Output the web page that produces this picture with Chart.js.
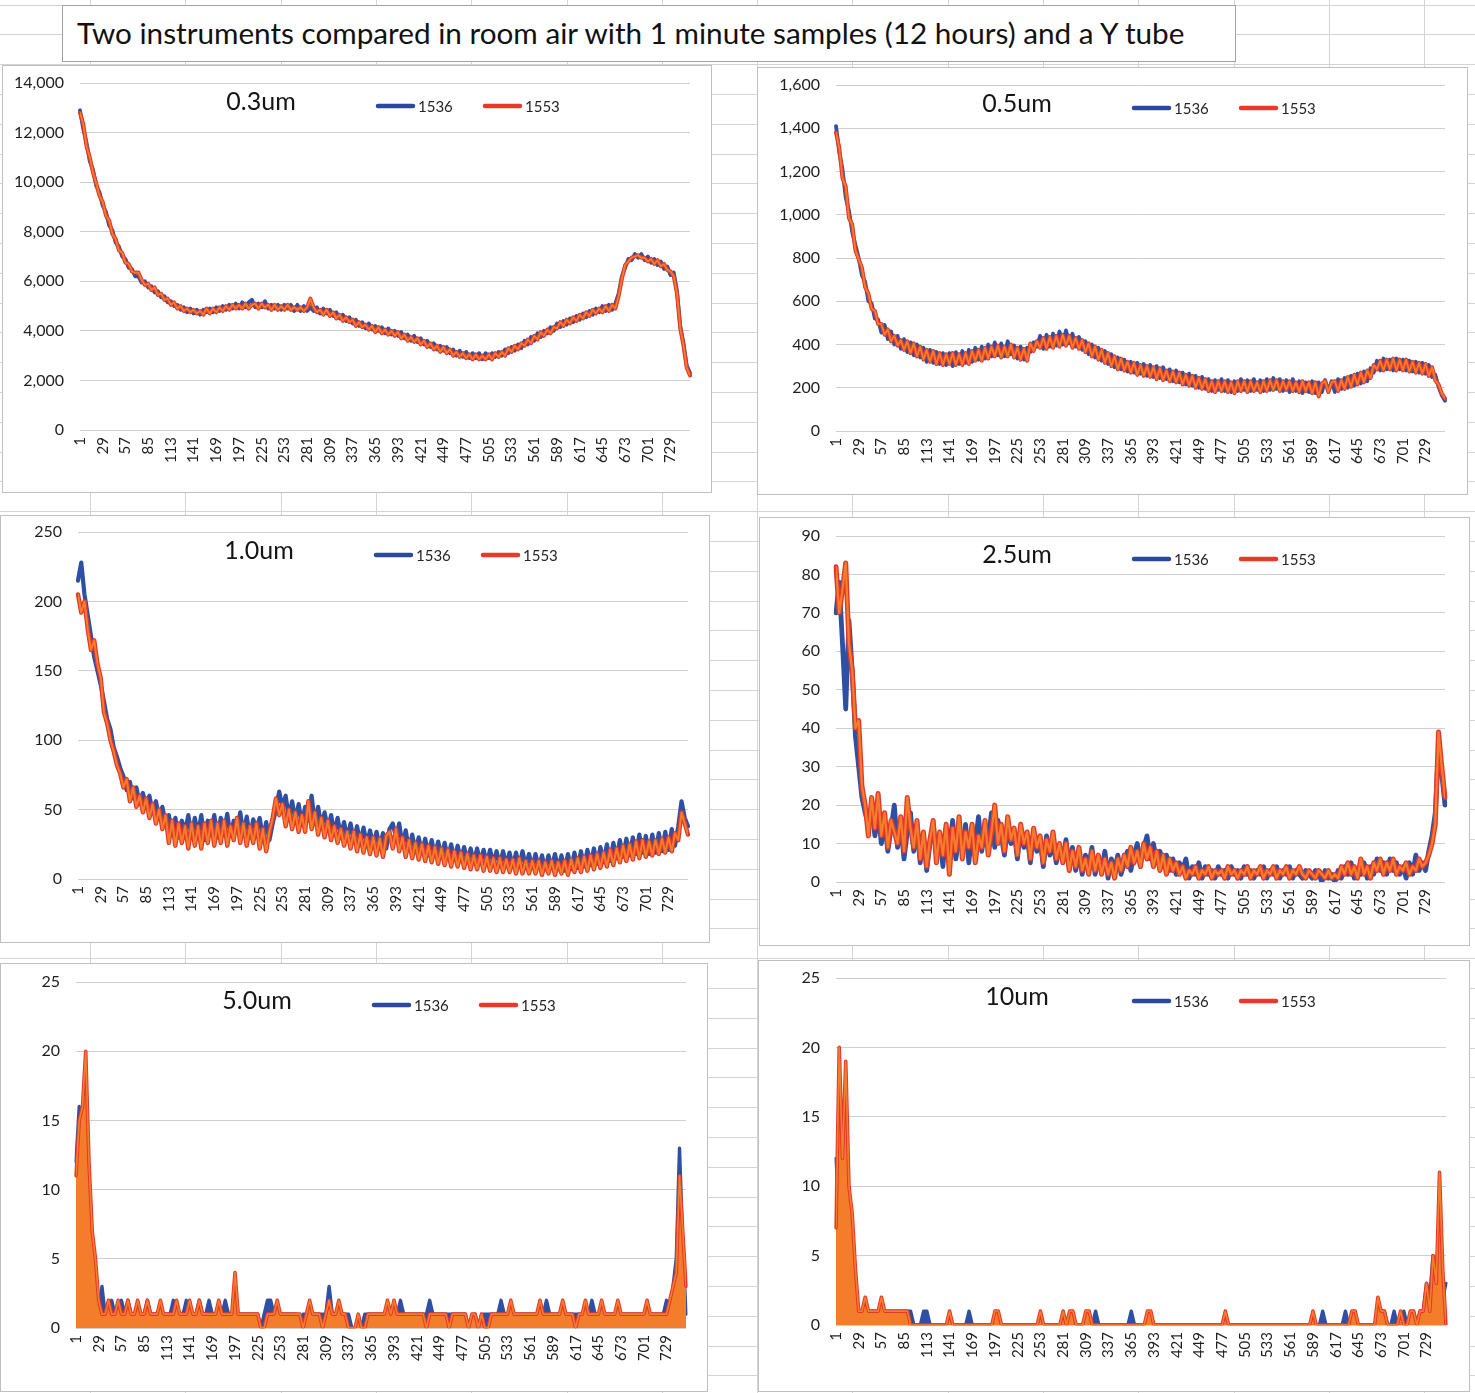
<!DOCTYPE html>
<html><head><meta charset="utf-8">
<script src="https://cdn.jsdelivr.net/npm/chart.js@4.4.0/dist/chart.umd.min.js"></script>
<style>
html,body{margin:0;padding:0;}
body{width:1475px;height:1393px;position:relative;background:#fff;overflow:hidden;font-family:Lato,sans-serif;}
#sheet{position:absolute;left:0;top:0;}
.panel{position:absolute;background:#fff;border:1px solid #bfbfbf;box-sizing:border-box;}
.panel canvas{position:absolute;left:0;top:0;}
#title{position:absolute;left:62px;top:5px;width:1174px;height:57px;border:1px solid #a2a2a2;background:#fff;box-sizing:border-box;
  font-family:Lato,sans-serif;font-size:28px;line-height:54px;padding-left:14px;white-space:nowrap;color:#111;}
</style>
</head><body>
<canvas id="sheet" width="1475" height="1393"></canvas>
<div id="title">Two instruments compared in room air with 1 minute samples (12 hours) and a Y tube</div>
<script>
// ---------- DATA (sample every 4 minutes, minute 1 .. 753) ----------
const SAMPLE_STEP = 4;
const SAMPLE_COUNT = 189;
const minutes = Array.from({length: SAMPLE_COUNT}, (_, i) => 1 + SAMPLE_STEP * i);
const xTickLabels = [1,29,57,85,113,141,169,197,225,253,281,309,337,365,393,421,449,477,505,533,561,589,617,645,673,701,729];
const seriesNames = ['1536', '1553'];
const panelTitles = ['0.3um', '0.5um', '1.0um', '2.5um', '5.0um', '10um'];
const yMaxima = [14000, 1600, 250, 90, 25, 25];
const yStepSizes = [2000, 200, 50, 10, 5, 5];

const p03_1536 = [
12900,12150,11600,10850,10500,9850,9600,
9050,8800,8250,8050,7550,7400,7000,
6900,6550,6500,6200,6200,5950,6000,
5750,5800,5550,5600,5350,5400,5150,
5200,5000,5050,4850,4950,4750,4900,
4700,4850,4650,4850,4750,4900,4750,
4950,4800,5000,4850,5050,4900,5100,
4900,5150,4950,5150,5250,4950,5100,
4950,5200,4900,5050,4900,5050,4850,
5050,4900,5050,4800,5050,4800,5000,
4800,4950,4800,4950,4700,4900,4700,
4850,4600,4750,4500,4650,4400,4550,
4300,4450,4200,4350,4100,4300,4050,
4200,4000,4150,3900,4100,3850,4000,
3800,3950,3700,3850,3600,3800,3550,
3700,3450,3600,3350,3500,3250,3400,
3200,3350,3100,3250,3000,3200,2950,
3150,2900,3100,2900,3100,2850,3100,
2900,3100,2950,3150,3000,3250,3100,
3350,3200,3450,3300,3600,3450,3750,
3600,3900,3750,4000,3900,4150,4000,
4300,4150,4400,4250,4500,4350,4600,
4450,4700,4550,4800,4650,4900,4750,
5000,4800,5050,4850,5100,5500,6200,
6550,6900,6850,7100,6950,7100,6850,
7000,6750,6900,6650,6800,6500,6600,
6250,6350,5600,4200,3500,2600,2300];
const p03_1553 = [
12800,12350,11450,11000,10400,9950,9450,
9200,8650,8450,7900,7700,7250,7150,
6750,6700,6400,6350,6350,6050,5850,
5900,5650,5750,5450,5500,5250,5300,
5050,5150,4900,5000,4800,4900,4750,
4850,4700,4800,4650,4900,4700,4900,
4750,4950,4800,5000,4850,5050,4900,
5050,4900,5100,4900,5050,5100,4900,
5100,4950,5050,4850,5050,4850,5000,
4850,5050,4850,4950,4850,4950,4800,
4950,5300,4950,4750,4850,4650,4850,
4600,4750,4500,4650,4400,4550,4350,
4450,4200,4350,4150,4250,4050,4200,
3950,4150,3900,4050,3850,4000,3800,
3950,3700,3850,3600,3750,3550,3700,
3450,3600,3350,3500,3250,3400,3150,
3350,3100,3250,3000,3150,2950,3100,
2900,3050,2850,3050,2850,3000,2850,
3050,2850,3100,2950,3150,3000,3300,
3150,3400,3250,3500,3400,3650,3500,
3800,3650,3950,3800,4050,3900,4150,
4100,4350,4200,4450,4300,4550,4400,
4650,4500,4750,4600,4850,4700,4900,
4750,5000,4800,5050,4900,5400,6100,
6650,6800,6950,7000,7050,6950,6950,
6800,6900,6700,6850,6600,6700,6450,
6400,6200,5500,4100,3400,2500,2200];

const p05_1536 = [
1410,1290,1210,1080,1020,920,860,
800,720,690,600,590,520,515,
455,490,425,460,400,440,380,
425,365,410,350,400,340,385,
320,375,315,365,310,360,305,
360,300,365,310,370,315,375,
320,385,330,390,335,400,345,
410,350,405,345,415,355,395,
335,390,330,385,365,410,390,
440,380,445,390,450,395,460,
400,465,405,450,390,435,375,
415,355,400,340,385,325,370,
310,355,295,340,285,330,275,
320,270,315,265,310,255,305,
250,300,245,295,240,285,230,
280,225,270,215,265,210,255,
200,250,195,240,185,235,190,
240,185,235,180,230,185,240,
190,235,185,240,190,235,185,
240,190,245,195,240,185,235,
180,240,185,230,175,225,180,
230,175,225,180,235,185,230,
180,240,195,245,200,255,210,
265,220,275,230,290,270,325,
280,335,285,330,280,335,285,
330,280,325,275,320,270,315,
265,305,250,260,205,165,140];
const p05_1553 = [
1380,1310,1170,1130,985,955,835,
795,755,665,635,565,555,495,
495,445,470,415,440,395,420,
375,415,360,405,345,390,330,
375,320,370,310,360,305,355,
310,360,305,355,305,360,310,
370,325,375,325,385,335,390,
345,395,340,390,345,400,340,
385,330,380,325,405,370,415,
385,430,380,435,385,440,390,
445,395,440,385,430,380,420,
365,405,345,390,330,375,315,
360,300,345,285,335,280,320,
270,315,260,305,255,300,250,
295,240,290,235,280,230,275,
225,270,215,260,210,255,200,
245,195,240,185,230,180,230,
185,230,180,225,175,230,185,
230,180,230,185,225,180,230,
185,235,190,235,185,230,190,
230,185,225,180,230,185,225,
175,225,160,220,230,180,225,
230,185,235,195,250,205,260,
215,270,225,280,245,305,285,
325,280,330,285,335,280,330,
280,330,275,320,270,315,265,
310,255,295,235,215,175,150];

const p10_1536 = [
215,228,205,190,175,160,150,
140,128,115,108,95,88,80,
74,64,70,58,66,54,62,
52,60,48,56,44,52,40,
46,32,44,30,42,34,46,
30,44,32,46,28,42,34,
46,30,44,34,47,31,42,
35,48,32,45,30,43,36,
44,29,41,28,40,50,63,
52,60,44,56,42,54,40,
52,42,60,40,52,38,48,
36,46,33,44,31,41,29,
40,28,38,26,37,25,35,
24,34,23,33,22,36,40,
30,40,24,35,21,32,20,
30,19,29,18,28,17,27,
16,26,15,25,14,24,14,
23,13,22,12,22,12,21,
11,21,11,20,10,20,10,
19,9,19,9,20,9,18,
8,18,8,17,7,17,8,
18,7,17,6,18,7,19,
8,20,9,21,10,22,11,
23,12,25,13,26,15,28,
16,29,17,30,18,32,19,
31,18,32,19,33,20,34,
21,36,24,38,56,44,38];
const p10_1553 = [
205,192,200,180,165,172,155,
145,120,112,100,92,82,76,
66,72,56,66,52,60,48,
58,44,54,40,50,36,46,
26,42,24,40,26,38,22,
40,24,38,22,40,26,42,
24,40,26,42,24,38,28,
44,26,40,24,38,26,40,
22,36,20,34,44,58,46,
54,38,50,36,48,34,46,
34,56,36,48,32,44,30,
42,28,38,26,36,24,34,
22,34,20,32,19,30,18,
30,17,29,16,31,34,22,
36,20,30,16,28,15,26,
14,25,13,24,12,23,11,
22,10,21,9,20,9,19,
8,18,7,17,7,17,6,
16,6,15,5,15,5,14,
5,14,4,15,4,13,4,
13,4,13,3,12,4,13,
3,12,4,13,3,14,5,
15,5,16,6,17,7,18,
8,19,9,21,10,22,12,
24,13,25,14,27,15,28,
16,27,17,28,18,29,19,
30,20,33,28,48,40,32];

const p25_1536 = [
70,78,62,45,68,55,38,
30,22,18,15,20,12,18,
10,16,8,14,20,9,15,
6,13,18,8,14,5,12,
3,10,15,7,12,4,14,
9,16,6,12,8,15,5,
13,10,17,8,14,11,18,
9,16,12,7,15,10,13,
6,14,9,12,5,13,8,
11,4,12,7,10,5,9,
6,11,4,9,3,8,2,
7,4,9,2,6,3,8,
1,6,3,7,2,5,8,
3,7,10,5,9,12,6,
10,5,8,4,7,3,6,
2,5,3,6,1,4,2,
5,1,4,2,3,1,4,
2,3,1,4,2,3,1,
4,2,3,1,3,2,4,
1,3,2,4,1,3,2,
4,1,3,2,1,3,2,
1,3,2,0,3,1,2,
0,3,1,4,2,5,1,
3,2,5,1,4,2,6,
3,5,2,6,3,5,2,
4,1,5,2,7,3,5,
3,8,12,18,35,28,20];
const p25_1553 = [
82,70,76,83,62,55,40,
42,25,20,12,22,14,23,
12,18,9,16,13,10,17,
8,22,14,9,16,6,13,
4,11,16,5,13,7,15,
2,14,8,17,6,13,9,
15,5,12,9,16,7,13,
20,10,15,8,17,11,14,
7,15,10,13,6,14,9,
12,5,11,8,13,6,10,
5,10,3,8,4,9,3,
6,2,8,3,7,2,6,
2,5,1,6,3,7,4,
9,5,8,4,10,6,9,
4,8,3,7,2,6,3,
5,2,4,1,3,2,4,
1,3,2,4,1,3,2,
3,1,4,2,3,1,3,
2,4,1,3,2,4,1,
3,2,4,1,3,2,4,
1,3,2,4,2,1,3,
2,1,3,2,1,3,1,
2,1,4,2,5,2,4,
1,6,2,4,1,5,3,
6,2,5,3,6,2,4,
3,5,2,4,3,6,4,
5,7,10,15,39,30,22];

const p50_1536 = [
12,16,8,14,11,6,4,
0,3,1,1,2,1,1,
2,1,2,1,1,1,1,
1,2,1,1,1,1,1,
1,1,2,1,1,1,2,
1,1,1,2,1,1,2,
1,1,1,1,2,1,1,
1,1,1,1,1,1,1,
1,0,1,2,2,1,1,
1,1,1,1,1,1,0,
1,1,1,1,1,1,1,
1,3,1,1,1,1,1,
1,0,0,0,0,1,1,
1,1,1,1,1,1,1,
1,1,2,1,1,1,1,
1,1,1,1,2,1,1,
1,1,1,1,1,1,1,
1,1,0,0,1,0,1,
1,1,1,1,1,2,1,
1,1,1,1,1,1,1,
1,1,1,1,1,2,1,
1,1,1,1,1,1,1,
1,1,1,1,1,2,1,
1,1,1,1,1,1,1,
1,1,1,1,1,1,1,
1,1,1,1,1,1,1,
2,1,3,5,13,6,1];
const p50_1553 = [
11,15,16,20,12,7,5,
2,1,1,2,1,1,2,
1,1,2,1,1,2,1,
1,2,1,1,1,2,1,
1,1,1,2,1,1,1,
2,1,1,2,1,1,1,
1,1,2,1,1,1,1,
4,1,1,1,1,1,1,
1,0,0,1,1,1,2,
1,1,1,1,1,1,1,
0,1,2,1,1,1,0,
1,2,1,1,2,1,1,
0,0,0,1,0,0,1,
1,1,1,1,1,2,1,
2,1,1,1,1,1,1,
1,1,1,0,1,1,1,
1,1,1,0,1,1,1,
1,1,0,1,1,0,1,
0,0,1,1,1,1,1,
1,2,1,1,1,1,1,
1,1,1,2,1,1,1,
1,1,1,2,1,1,1,
0,1,1,2,1,1,1,
1,2,1,1,1,1,2,
1,1,1,1,1,1,1,
1,2,1,1,1,1,1,
1,2,3,4,11,7,3];

const p100_1536 = [
12,8,7,6,5,3,1,
1,1,0,1,1,1,1,
1,1,1,1,1,1,1,
1,1,1,0,0,0,1,
1,0,0,0,0,0,0,
0,0,0,0,0,0,1,
0,0,0,0,0,0,0,
0,0,0,0,0,0,0,
0,0,0,0,0,0,0,
0,0,0,0,0,0,0,
0,0,0,0,0,0,0,
0,0,0,1,0,0,0,
0,0,0,0,0,0,0,
1,0,0,0,0,0,0,
0,0,0,0,0,0,0,
0,0,0,0,0,0,0,
0,0,0,0,0,0,0,
0,0,0,0,0,0,0,
0,0,0,0,0,0,0,
0,0,0,0,0,0,0,
0,0,0,0,0,0,0,
0,0,0,1,0,0,0,
0,0,0,1,0,0,0,
0,0,0,0,0,0,1,
1,1,0,0,1,0,0,
1,0,0,1,0,1,1,
3,2,5,4,7,2,3];
const p100_1553 = [
7,20,12,19,10,8,4,
1,1,2,1,1,1,1,
2,1,1,1,1,1,1,
1,1,0,0,0,0,0,
0,0,0,0,0,0,0,
1,0,0,0,0,0,0,
0,0,0,0,0,0,0,
1,1,0,0,0,0,0,
0,0,0,0,0,0,0,
1,0,0,0,0,0,0,
1,0,1,1,0,0,0,
1,1,0,0,0,0,0,
0,0,0,0,0,0,0,
0,0,0,0,0,1,1,
0,0,0,0,0,0,0,
0,0,0,0,0,0,0,
0,0,0,0,0,0,0,
0,1,0,0,0,0,0,
0,0,0,0,0,0,0,
0,0,0,0,0,0,0,
0,0,0,0,0,0,0,
1,0,0,0,0,0,0,
0,0,0,0,0,1,1,
0,0,0,0,0,0,2,
1,1,0,0,0,0,1,
0,0,1,1,0,1,1,
3,1,5,3,11,4,0];

const seriesA = [p03_1536, p05_1536, p10_1536, p25_1536, p50_1536, p100_1536];
const seriesB = [p03_1553, p05_1553, p10_1553, p25_1553, p50_1553, p100_1553];

// ---------- LAYOUT / STYLE ----------
// box: [left, top, width, height]; area: [left, top, right, bottom] relative to box
const layout = [
  {box:[2,65,710,428],   area:[78,18,688,365], lw:4.0, fill:false},
  {box:[757,67,711,428], area:[79,18,688,364], lw:4.0, fill:false},
  {box:[0,515,710,428],  area:[78,17,688,364], lw:4.4, fill:false},
  {box:[759,517,711,429],area:[77,19,686,365], lw:5.0, fill:false},
  {box:[0,963,708,429],  area:[76,19,686,365], lw:3.6, fill:true},
  {box:[758,960,712,432],area:[78,18,688,365], lw:3.6, fill:true}
];
const BLUE = '#2e50a4', RED = '#e4382a', ORANGE = '#f47d2c';
const LEG_BLUE = '#2b489c', LEG_RED = '#e8392b';
const FONT = 'Lato, sans-serif';

// spreadsheet grid background
(function(){
  const c = document.getElementById('sheet').getContext('2d');
  c.fillStyle = '#fff'; c.fillRect(0,0,1475,1393);
  c.fillStyle = '#d4d4d4';
  for (let k = -1; k < 16; k++) { const x = Math.round(90 + 95.3*k); c.fillRect(x,0,1,1393); }
  for (let k = 0; k < 48; k++) { const y = Math.round(4.5 + 29.8*k); c.fillRect(0,y,1475,1); }
})();

// fit main title width
(function(){
  const t = document.getElementById('title');
  const m = document.createElement('canvas').getContext('2d');
  m.font = '28px ' + FONT;
  const w = m.measureText(t.textContent).width;
  t.style.fontSize = (28 * 1111 / w).toFixed(2) + 'px';
})();

const overlay = {
  id: 'overlay',
  afterDraw(chart, args, opts) {
    const ctx = chart.ctx, a = chart.chartArea;
    ctx.save();
    ctx.fillStyle = '#151515';
    ctx.font = '25px ' + FONT;
    ctx.textAlign = 'center'; ctx.textBaseline = 'middle';
    ctx.fillText(opts.title, a.left + 181, a.top + 19);
    chart.data.datasets.forEach((ds, k) => {
      const x = a.left + 297 + k * 107, y = a.top + 23;
      ctx.strokeStyle = ds.legendColor; ctx.lineWidth = 4.5; ctx.lineCap = 'round';
      ctx.beginPath(); ctx.moveTo(x + 1, y); ctx.lineTo(x + 36, y); ctx.stroke();
      ctx.fillStyle = '#262626'; ctx.font = '15px ' + FONT; ctx.textAlign = 'left';
      ctx.fillText(ds.label, x + 41, y + 1);
    });
    ctx.restore();
  }
};
const innerStroke = {
  id: 'innerStroke',
  afterDatasetDraw(chart, args) {
    const ds = chart.data.datasets[args.index];
    if (!ds.innerColor) return;
    const pts = args.meta.data, ctx = chart.ctx, a = chart.chartArea;
    ctx.save();
    ctx.beginPath(); ctx.rect(a.left, a.top - 3, a.right - a.left, a.bottom - a.top + 6); ctx.clip();
    ctx.beginPath();
    pts.forEach((p, i) => i ? ctx.lineTo(p.x, p.y) : ctx.moveTo(p.x, p.y));
    ctx.lineWidth = ds.innerWidth; ctx.strokeStyle = ds.innerColor;
    ctx.lineJoin = 'round'; ctx.lineCap = 'round';
    ctx.stroke();
    ctx.restore();
  }
};

layout.forEach((L, n) => {
  const [bx, by, bw, bh] = L.box;
  const div = document.createElement('div');
  div.className = 'panel';
  Object.assign(div.style, {left: bx + 'px', top: by + 'px', width: bw + 'px', height: bh + 'px'});
  const cw = bw - 2, ch = bh - 2;
  const cv = document.createElement('canvas');
  cv.width = cw; cv.height = ch;
  cv.style.width = cw + 'px'; cv.style.height = ch + 'px';
  div.appendChild(cv);
  document.body.appendChild(div);
  const aL = L.area[0] - 1, aT = L.area[1] - 1, aR = L.area[2] - 1, aB = L.area[3] - 1;
  new Chart(cv, {
    type: 'line',
    data: {
      labels: minutes,
      datasets: [
        {label: seriesNames[0], data: seriesA[n], borderColor: BLUE, legendColor: LEG_BLUE,
         backgroundColor: BLUE, fill: L.fill ? 'origin' : false,
         borderWidth: L.lw - 0.2, pointRadius: 0, tension: 0, order: 1},
        {label: seriesNames[1], data: seriesB[n], borderColor: RED, legendColor: LEG_RED,
         backgroundColor: ORANGE, fill: L.fill ? 'origin' : false,
         borderWidth: L.lw, pointRadius: 0, tension: 0, order: 0, innerColor: ORANGE, innerWidth: L.lw * 0.45}
      ]
    },
    options: {
      responsive: false, animation: false, devicePixelRatio: 1, locale: 'en-US',
      layout: {padding: {top: aT, right: cw - aR, left: 0, bottom: 0}},
      elements: {line: {borderJoinStyle: 'round', borderCapStyle: 'round'}},
      plugins: {legend: {display: false}, tooltip: {enabled: false}, filler: {propagate: false}, overlay: {title: panelTitles[n]}},
      scales: {
        x: {
          type: 'category', offset: false,
          grid: {display: false, drawTicks: false}, border: {display: false},
          ticks: {
            autoSkip: false, minRotation: 90, maxRotation: 90, padding: 7,
            color: '#1e1e1e', font: {family: FONT, size: 15},
            callback: function (v) { const lab = this.getLabelForValue(v); return xTickLabels.includes(lab) ? String(lab) : null; }
          },
          afterFit: s => { s.height = ch - aB; s.paddingLeft = 0; s.paddingRight = 0; }
        },
        y: {
          min: 0, max: yMaxima[n],
          ticks: {stepSize: yStepSizes[n], padding: 16, color: '#1e1e1e', font: {family: FONT, size: 16}},
          grid: {color: '#cfcfcf', lineWidth: 1, drawTicks: false}, border: {display: false},
          afterFit: s => { s.width = aL; s.paddingTop = 0; s.paddingBottom = 0; }
        }
      }
    },
    plugins: [overlay, innerStroke]
  });
});
</script>
</body></html>
